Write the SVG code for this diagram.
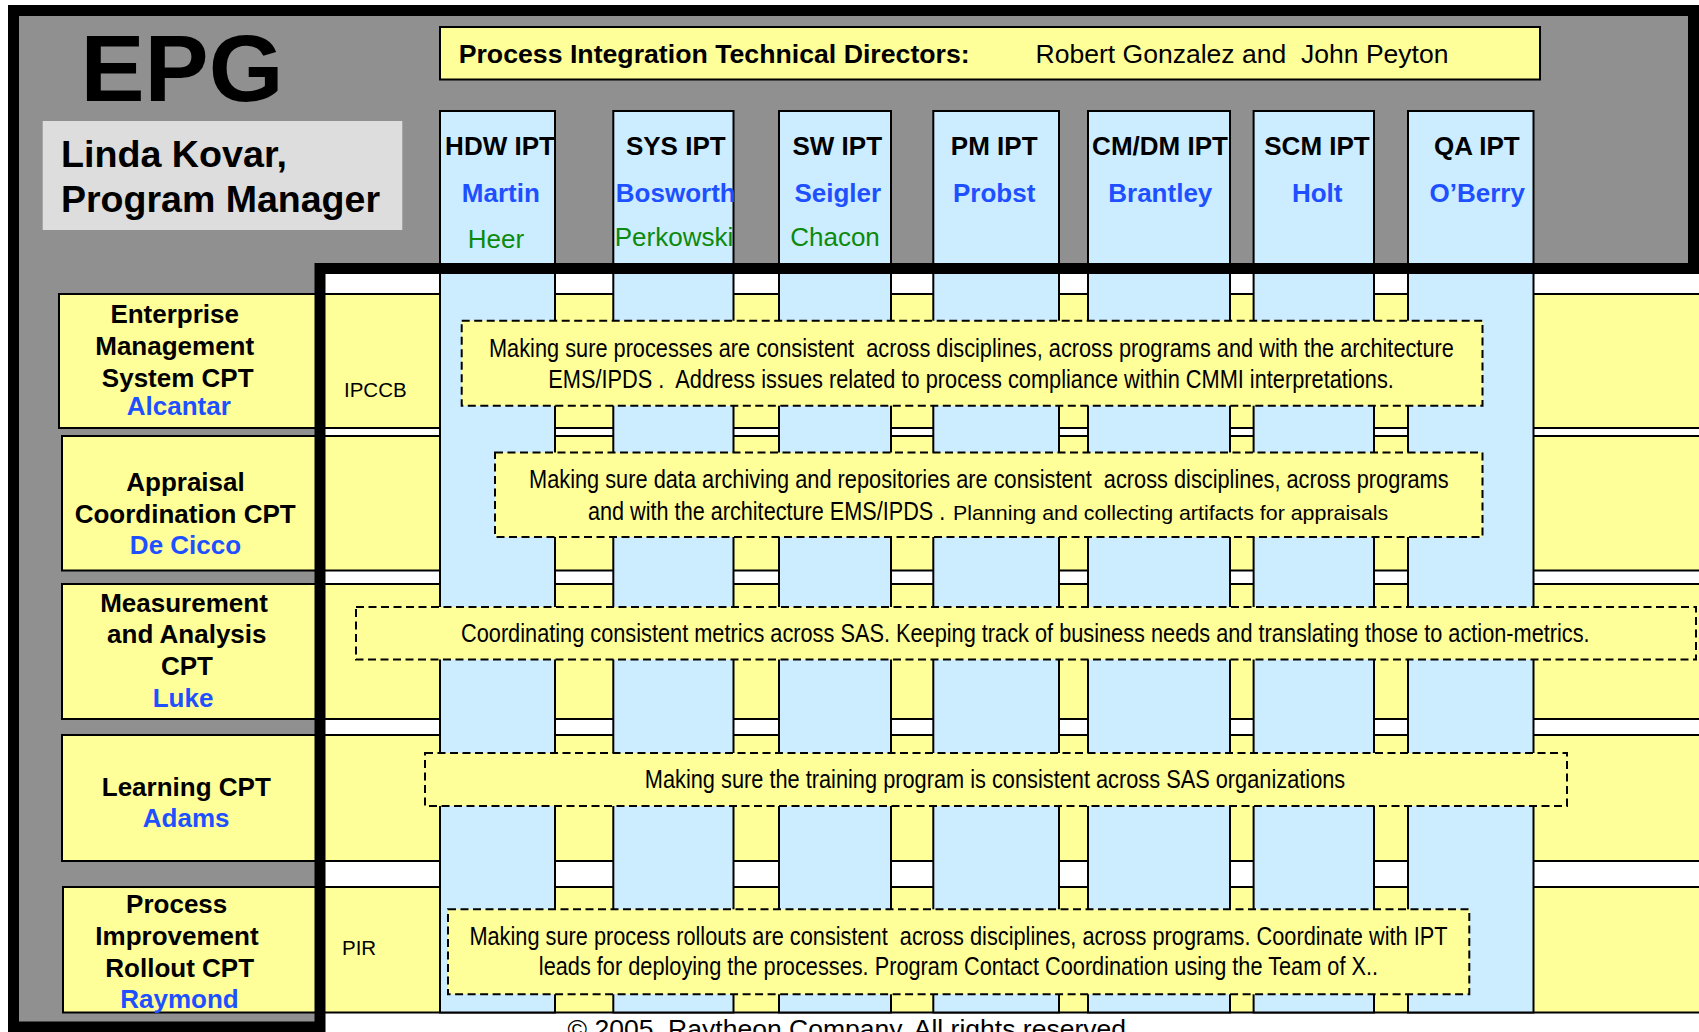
<svg xmlns="http://www.w3.org/2000/svg" width="1699" height="1032" viewBox="0 0 1699 1032">
<style>
  text { font-family: "Liberation Sans", Arial, "DejaVu Sans", sans-serif; fill: #000; }
  .b { font-weight: bold; }
  .lbl { font-size: 26px; font-weight: bold; text-anchor: middle; }
  .blue { fill: #1E50FF; }
  .green { fill: #0B8A0B; }
  .nm2 { font-size: 26px; text-anchor: middle; }
  .desc { font-size: 25px; }
  .small { font-size: 20px; }
  .row { fill: #FFFF99; stroke: #000; stroke-width: 2; }
  .col { fill: #CCECFF; stroke: #000; stroke-width: 2; }
  .dash { fill: #FFFF99; stroke: #000; stroke-width: 2; stroke-dasharray: 8 4.5; }
  .frame { fill: none; stroke: #000; stroke-width: 11; stroke-linejoin: miter; }
</style>
<rect x="0" y="0" width="1699" height="1032" fill="#FFFFFF"/>
<path d="M13.5,10.5 H1693.5 V268.5 H320 V1027 H13.5 Z" fill="#909090"/>

<g id="epg-title">
  <text x="80.5" y="101" class="b" font-size="95" textLength="203" lengthAdjust="spacingAndGlyphs">EPG</text>
</g>
<g id="program-manager">
  <rect x="42.7" y="121" width="359.6" height="109" fill="#DDDDDD"/>
  <text x="61" y="166.7" class="b" font-size="36.5" textLength="226" lengthAdjust="spacingAndGlyphs">Linda Kovar,</text>
  <text x="61" y="211.7" class="b" font-size="36.5" textLength="319" lengthAdjust="spacingAndGlyphs">Program Manager</text>
</g>
<g id="directors">
  <rect x="440" y="27" width="1100" height="52.5" fill="#FFFF99" stroke="#000" stroke-width="2"/>
  <text x="458.7" y="63.3" class="b" font-size="26" textLength="511" lengthAdjust="spacingAndGlyphs">Process Integration Technical Directors:</text>
  <text x="1035.5" y="63.3" font-size="26" xml:space="preserve" textLength="413" lengthAdjust="spacingAndGlyphs">Robert Gonzalez and  John Peyton</text>
</g>

<!-- CPT rows -->
<g id="cpt-ems">
  <rect class="row" x="59" y="294" width="1660" height="134"/>
  <text class="lbl" x="174.7" y="323.3">Enterprise</text>
  <text class="lbl" x="174.7" y="355">Management</text>
  <text class="lbl" x="177.7" y="386.7">System CPT</text>
  <text class="lbl blue" x="178.8" y="415">Alcantar</text>
  <text x="344" y="396.7" font-size="20.5">IPCCB</text>
</g>
<g id="cpt-appraisal">
  <rect class="row" x="62" y="436" width="1660" height="134.5"/>
  <text class="lbl" x="185.5" y="490.7">Appraisal</text>
  <text class="lbl" x="185.2" y="522.7">Coordination CPT</text>
  <text class="lbl blue" x="185.5" y="554">De Cicco</text>
</g>
<g id="cpt-measurement">
  <rect class="row" x="62" y="584" width="1660" height="135"/>
  <text class="lbl" x="184" y="611.7">Measurement</text>
  <text class="lbl" x="186.8" y="643.3">and Analysis</text>
  <text class="lbl" x="187" y="675">CPT</text>
  <text class="lbl blue" x="183" y="707.3">Luke</text>
</g>
<g id="cpt-learning">
  <rect class="row" x="62" y="735" width="1660" height="126"/>
  <text class="lbl" x="186.3" y="795.7">Learning CPT</text>
  <text class="lbl blue" x="186.2" y="826.7">Adams</text>
</g>
<g id="cpt-rollout">
  <rect class="row" x="63" y="887" width="1660" height="125.5"/>
  <text class="lbl" x="176.7" y="912.7">Process</text>
  <text class="lbl" x="177" y="945">Improvement</text>
  <text class="lbl" x="179.7" y="976.7">Rollout CPT</text>
  <text class="lbl blue" x="179.5" y="1008.3">Raymond</text>
  <text x="342" y="955" font-size="20.5">PIR</text>
</g>

<!-- IPT columns -->
<g id="ipt-hdw">
  <rect class="col" x="440" y="111" width="115" height="901.5"/>
  <text class="lbl" x="500" y="155">HDW IPT</text>
  <text class="lbl blue" x="500.8" y="202">Martin</text>
  <text class="nm2 green" x="496" y="248">Heer</text>
</g>
<g id="ipt-sys">
  <rect class="col" x="613.3" y="111" width="120.2" height="901.5"/>
  <text class="lbl" x="675.8" y="155">SYS IPT</text>
  <text class="lbl blue" x="675.8" y="202">Bosworth</text>
  <text class="nm2 green" x="674" y="245.5">Perkowski</text>
</g>
<g id="ipt-sw">
  <rect class="col" x="779" y="111" width="112" height="901.5"/>
  <text class="lbl" x="837.3" y="155">SW IPT</text>
  <text class="lbl blue" x="837.8" y="202">Seigler</text>
  <text class="nm2 green" x="835" y="246">Chacon</text>
</g>
<g id="ipt-pm">
  <rect class="col" x="933.3" y="111" width="125.7" height="901.5"/>
  <text class="lbl" x="994.2" y="155">PM IPT</text>
  <text class="lbl blue" x="994.2" y="202">Probst</text>
</g>
<g id="ipt-cmdm">
  <rect class="col" x="1088" y="111" width="142" height="901.5"/>
  <text class="lbl" x="1160" y="155">CM/DM IPT</text>
  <text class="lbl blue" x="1160.3" y="202">Brantley</text>
</g>
<g id="ipt-scm">
  <rect class="col" x="1253.6" y="111" width="120.4" height="901.5"/>
  <text class="lbl" x="1317" y="155">SCM IPT</text>
  <text class="lbl blue" x="1317.2" y="202">Holt</text>
</g>
<g id="ipt-qa">
  <rect class="col" x="1408" y="111" width="125.5" height="901.5"/>
  <text class="lbl" x="1476.8" y="155">QA IPT</text>
  <text class="lbl blue" x="1477.2" y="202">O’Berry</text>
</g>

<path class="frame" d="M13.5,10.5 H1693.5 V268.5 H320 V1027 H13.5 Z"/>

<!-- description boxes -->
<g id="desc-ems">
  <rect class="dash" x="461.7" y="320.7" width="1020.8" height="85"/>
  <text class="desc" transform="translate(489,356.5) scale(0.78,1)" xml:space="preserve" textLength="1237" lengthAdjust="spacingAndGlyphs">Making sure processes are consistent  across disciplines, across programs and with the architecture</text>
  <text class="desc" transform="translate(548.3,388.3) scale(0.78,1)" xml:space="preserve" textLength="1084" lengthAdjust="spacingAndGlyphs">EMS/IPDS .  Address issues related to process compliance within CMMI interpretations.</text>
</g>
<g id="desc-appraisal">
  <rect class="dash" x="495" y="452.5" width="987.5" height="84.5"/>
  <text class="desc" transform="translate(529,488.3) scale(0.78,1)" xml:space="preserve" textLength="1179" lengthAdjust="spacingAndGlyphs">Making sure data archiving and repositories are consistent  across disciplines, across programs</text>
  <text class="desc" transform="translate(588,520) scale(0.78,1)" textLength="458" lengthAdjust="spacingAndGlyphs">and with the architecture EMS/IPDS .</text>
  <text class="small" transform="translate(953,520) scale(0.78,1)" textLength="558" lengthAdjust="spacingAndGlyphs">Planning and collecting artifacts for appraisals</text>
</g>
<g id="desc-measurement">
  <rect class="dash" x="356" y="607" width="1340" height="52.5"/>
  <text class="desc" transform="translate(461,641.7) scale(0.78,1)" textLength="1447" lengthAdjust="spacingAndGlyphs">Coordinating consistent metrics across SAS. Keeping track of business needs and translating those to action-metrics.</text>
</g>
<g id="desc-learning">
  <rect class="dash" x="425" y="753" width="1142" height="53"/>
  <text class="desc" transform="translate(644.8,788.2) scale(0.78,1)" textLength="898" lengthAdjust="spacingAndGlyphs">Making sure the training program is consistent across SAS organizations</text>
</g>
<g id="desc-rollout">
  <rect class="dash" x="448" y="909.3" width="1021.3" height="85"/>
  <text class="desc" transform="translate(469.4,945) scale(0.78,1)" xml:space="preserve" textLength="1254" lengthAdjust="spacingAndGlyphs">Making sure process rollouts are consistent  across disciplines, across programs. Coordinate with IPT</text>
  <text class="desc" transform="translate(538.8,975) scale(0.78,1)" textLength="1076" lengthAdjust="spacingAndGlyphs">leads for deploying the processes. Program Contact Coordination using the Team of X..</text>
</g>

<g id="connectors"/>

<g id="footer">
  <text class="desc" transform="translate(567.5,1037.5) scale(0.78,1)" textLength="716" lengthAdjust="spacingAndGlyphs">© 2005, Raytheon Company. All rights reserved</text>
</g>
</svg>
